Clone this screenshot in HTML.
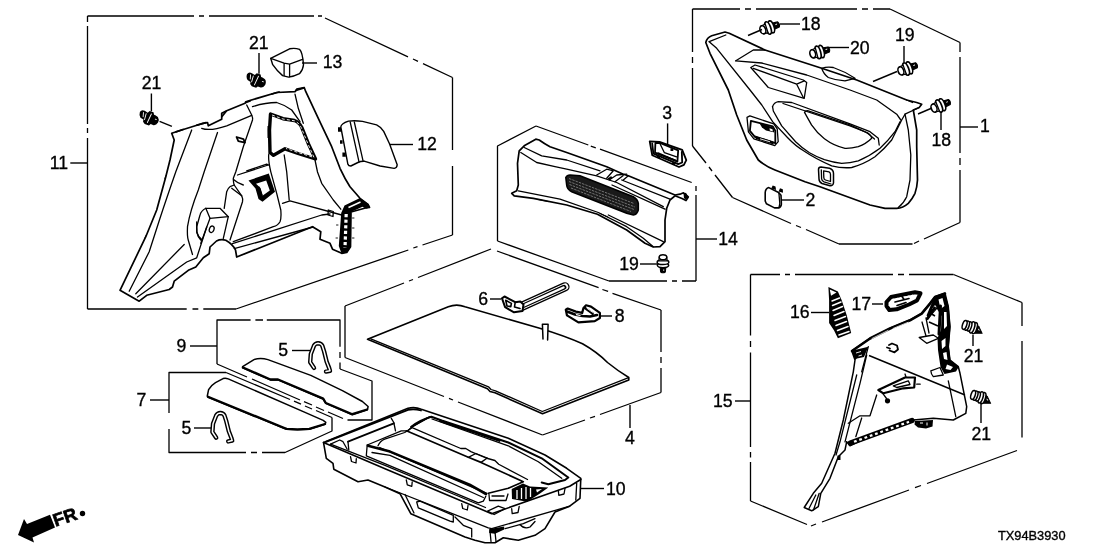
<!DOCTYPE html>
<html>
<head>
<meta charset="utf-8">
<title>Parts diagram</title>
<style>
html,body{margin:0;padding:0;background:#fff;}
body{width:1108px;height:554px;overflow:hidden;font-family:"Liberation Sans",sans-serif;}
svg{display:block;position:absolute;left:0;top:0;filter:grayscale(1);}
.b{fill:none;stroke:#000;stroke-width:1.3;stroke-linejoin:round;stroke-linecap:butt;}
.p{fill:none;stroke:#000;stroke-width:1.3;stroke-linejoin:round;stroke-linecap:round;}
.pw{fill:#fff;stroke:#000;stroke-width:1.7;stroke-linejoin:round;stroke-linecap:round;}
.t{fill:none;stroke:#000;stroke-width:0.9;stroke-linejoin:round;stroke-linecap:round;}
.h{fill:none;stroke:#000;stroke-width:1.8;stroke-linejoin:round;stroke-linecap:round;}
.k{fill:#000;stroke:none;}
.l{fill:none;stroke:#000;stroke-width:1.4;}
text{font-family:"Liberation Sans",sans-serif;font-size:19px;fill:#000;stroke:#000;stroke-width:0.35;}
</style>
</head>
<body>
<svg width="1108" height="554" viewBox="0 0 1108 554">
<rect x="0" y="0" width="1108" height="554" fill="#fff"/>
<defs>
<g id="clipA">
<path d="M-11 -1.500 Q-10.500 -4.500 -7 -4.500 L-3.500 -4 L-2.500 -6.500 L1.500 -7 L3 -5 L4.500 -5 L7.500 -4.500 Q10 -3 10 0.500 Q9.500 4 7 4.800 L4 5 L3 7 L-1.500 7.500 L-4 6 L-4.500 4 L-8 3.500 Q-10.500 2 -11 -1.500 Z" fill="#000"/>
<path d="M-7.500 -2.500 L-6 1.500 M-4.500 -2.500 L-3.500 3.500 M0.300 -4.500 L0.300 5 M6 -1.500 h1.200" fill="none" stroke="#fff" stroke-width="0.9" stroke-linecap="round"/>
</g>

<g id="clipB">
<path d="M3 -3.300 L9.500 -2.600 Q11.200 0 9.500 2.600 L3 3.300 Z" fill="#000" stroke="#000" stroke-width="1.200" stroke-linejoin="round"/>
<path d="M6.500 -0.800 h1.800" stroke="#fff" stroke-width="0.900" fill="none"/>
<ellipse cx="2" cy="0" rx="2.600" ry="6.300" fill="#fff" stroke="#000" stroke-width="1.700"/>
<ellipse cx="-1.500" cy="0" rx="2.600" ry="6.500" fill="#fff" stroke="#000" stroke-width="1.700"/>
<path d="M-7 -4.200 L-3 -4.500 L-3 4.500 L-7 4.200 Z" fill="#fff" stroke="#000" stroke-width="1.300"/>
<ellipse cx="-7" cy="0" rx="2.800" ry="4.200" fill="#fff" stroke="#000" stroke-width="1.600"/>
</g>
<g id="clipC">
<path d="M2.500 -4 L5.500 -3 L11 2.600 L3 5 Z" fill="#000" stroke="#000" stroke-width="1" stroke-linejoin="round"/>
<path d="M6 -0.600 l1.300 1.400" stroke="#fff" stroke-width="0.900" fill="none"/>
<ellipse cx="2.200" cy="0" rx="2.200" ry="5.800" fill="#fff" stroke="#000" stroke-width="1.500"/>
<ellipse cx="-0.300" cy="0" rx="2.200" ry="5.800" fill="#fff" stroke="#000" stroke-width="1.500"/>
<ellipse cx="-3.300" cy="0" rx="2.100" ry="4.800" fill="#fff" stroke="#000" stroke-width="1.500"/>
<ellipse cx="-5.800" cy="0" rx="2.100" ry="4.800" fill="#fff" stroke="#000" stroke-width="1.500"/>
<ellipse cx="-8.300" cy="0" rx="2.100" ry="4.600" fill="#fff" stroke="#000" stroke-width="1.500"/>
</g>
</defs>


<!-- ================= GROUP BOUNDARIES ================= -->
<g id="bounds" class="b">
<!-- group 11 -->
<path d="M87.5 16 H194 M199 16 H204 M209 16 H314 M318 16 H322"/>
<path d="M325 18 L408 56.800 M413 59 L418 61.400 M423 63.700 L452.5 77.5"/>
<path d="M452.5 77.5 V150 M452.5 166 V235"/>
<path d="M452.5 235 L422.500 245 M417.500 246.700 L413.300 248 M408.300 250 L236 309"/>
<path d="M236 309 H203.300 M198.300 309 H192.500 M186.700 309 H87.5"/>
<path d="M87.5 16 V22 M87.5 26 V124 M87.5 128 V133 M87.5 138 V309"/>
<!-- group 1 -->
<path d="M692.5 9 H740 M745 9 H751 M756 9 H857 M862 9 H868 M873 9 H890"/>
<path d="M890 9 L960 42.5"/>
<path d="M960 42.5 V52 M960 57 V153 M960 158 V165 M960 170 V222.5"/>
<path d="M960 222.5 L924 239 M919 241 L914 243.5"/>
<path d="M912.5 244 H839"/>
<path d="M839 244 L806 229.5 M801 227.5 L796 225.5 M791 223.5 L732.5 197.5"/>
<path d="M732.5 197.5 L715 175 M712 171 L709 167 M706 163 L692.5 146"/>
<path d="M692.5 146 V68 M692.5 63 V57 M692.5 52 V9"/>
<!-- group 14 -->
<path d="M497.5 241 V146 L536 126"/>
<path d="M536 126 L588.300 145 M590.800 146.200 L595.800 147.800 M600 149.200 L691.700 182.500"/>
<path d="M696 186 V191 M696 195 V281"/>
<path d="M696 281 H682 M677 281 H672 M667 281 H609"/>
<path d="M609 281 L497.5 241"/>
<!-- group 4 -->
<path d="M345 306 L404 283 M409 281 L413 279.5 M418 277.5 L491 249"/>
<path d="M497 251 L598.600 287.600 M602.400 289.500 L608.100 291.400 M612.500 293.300 L661 310"/>
<path d="M661 310 V352 M661 357 V363 M661 368 V392.5"/>
<path d="M661 392.5 L600 414.5 M595 416.3 L590 418 M585 420 L542.5 435"/>
<path d="M542.5 435 L458 402 M453 400 L449 398.3 M444 396.5 L345 357.5"/>
<path d="M345 357.5 V306"/>
<!-- group 15 -->
<path d="M750.5 274.5 H780 M785 274.5 H790 M795 274.5 H893 M898 274.5 H904 M909 274.5 H953.5"/>
<path d="M953.5 274.5 L1022 302.5"/>
<path d="M1022 302.5 V326 M1022 341 V437.5"/>
<path d="M1017 450.5 L927 483.5 M921 485.5 L915 487.7 M909 490 L822 522"/>
<path d="M816 524 L811 526 M807 524.5 L750.5 501"/>
<path d="M750.5 501 V462 M750.5 457.500 V452 M750.5 447 V352.500 M750.5 347 V341 M750.5 335.500 V274.5"/>
<!-- box 9 -->
<path d="M217 364 V320 H250.600 M255.400 320 H263 M266.800 320 H340 V346.800 M340 352 V358 M340 362.500 V369"/>
<path d="M340 369 L372 381 V420 H347.5"/>
<path d="M217 364 L247 377 M252 379 L300 400 M304 401.7 L312 405 M316 407 L324 410.5 M328 412 L343 418.5"/>
<!-- box 7 -->
<path d="M169 413 V372.5 H226"/>
<path d="M226 372.5 L290 399.5 M294 401.2 L301 404.2 M305 406 L312 409 M316 410.5 L332 417.5"/>
<path d="M332 417.5 V431 L285 452.5 H262 M257 452.5 H251 M246 452.5 H169 V429"/>
</g>



<!-- ================= PARTS ================= -->
<g id="parts">

<!-- ===== part 11 : left quarter panel ===== -->
<g id="p11">
<path class="pw" d="M171.7 133.3 L181.7 130 L201.7 123.7 L207.5 122.5 L208.3 125.8 L221.7 119.2 L221.7 113.3 L226.7 110.8 L245 103.3 L245.8 101.7 L276.7 92.5 L295 91.7 L296.7 89.2 L304.2 87.5 L305.8 91.7 L318.3 118.3 L331.7 146.7 L340 168.3 Q345 179 350 186.7 L360 198.3 L368 204.5 L369.5 207.5 L365.5 208 L351 212 L350.5 246.7 L346.7 252.5 L341.7 253.3 L332.5 249.2 L330 243.3 L320 239.2 L320.8 231.7 L316.7 229.2 L312.5 226.7 L236.7 257 L235.5 250 Q233 244.5 225.8 240.3 Q221 238.8 216.5 241 L210 247 L209.2 253.7 L203.3 257.8 L195.8 267 L188.3 270.3 L174.2 281.2 L172.5 287 L169.2 289.5 L146.7 295.3 L139.2 301.2 L120 290.3 L145.8 236.7 L156.7 210 L165.8 176.7 L170 160 L174.2 140 Z"/>
<!-- clip marks on top edge -->
<path class="h" d="M176 131.8 L183 129.5 M197 125.2 L206 122.6 M222 116.5 L226 111.5 M246 102.5 L250 100.8 M272 94 L279 92 M296 90.5 L304 87.8"/>
<path class="t" d="M166 175.5 l-1.2 3.2 M146.2 235 l-1.400 3.200"/>
<!-- inner long lines -->
<path class="p" d="M191.7 130 L175.8 171.8 Q166 200 160 218.3 L149.2 251.8 L129.2 291.2"/>
<path class="p" d="M217.5 132.5 L204.2 171.8 L198.3 190 Q190 211 187.5 226.7 Q187 236 188.300 240.300 L192.500 254.500"/>
<path class="p" d="M184.2 244.500 L135.800 293.700"/>
<path class="p" d="M137.5 297 L186.7 262 L196.7 257.800 L206.700 227"/>
<path class="p" d="M196.7 222 L196.700 232 Q198 236.500 201.700 239.500"/>
<!-- pillar lines -->
<path class="p" d="M201.7 128.300 Q210 131.500 226.700 125.800 L251.700 115.300"/>
<path class="p" d="M246.7 105 L251.700 115 Q253 118 252.500 120 L243.300 146.700 L235.800 171.800 L233.300 178.300 Q233.500 183.500 234.200 185"/>
<path class="p" d="M252.5 106.700 Q265 102.500 276.700 102.500 Q285 105 291.700 110 L300 121.700"/>
<path class="p" d="M295 94.200 L298.300 108.300 L303.300 123.300"/>
<path class="p" d="M315 160 L317.500 172 L321.700 183.300 L333.300 200 L340.800 209.200"/>
<!-- small clip -->
<path class="h" d="M236.5 137 L243.500 139.200 L245 142.700 L238.300 141.200 Z"/>
<!-- window frame -->
<path d="M270.500 114 L283 118.700 L294.500 120.500 Q299.500 122.500 301.800 127.500 L308.500 144 L315.500 159 L298 153.500 L285 148.800 L273.500 155.300 L270 152.500 L269.500 130 Z" fill="none" stroke="#000" stroke-width="3.400" stroke-linejoin="round"/>
<path d="M272 115 L283 119 L294.500 120.800 Q299 122.800 301.300 127.800 L308 144 L314 157.500 L298 152.500 L286 148.500" fill="none" stroke="#fff" stroke-width="0.900" stroke-dasharray="3 2.200"/>
<path class="k" d="M267.500 126 h3 v12 h-3 Z"/>
<!-- below window -->
<path class="p" d="M268.8 154 Q268 160 270.800 171.800 L276.700 193.300 L280.800 210 Q281.500 218 280 221.700 Q278 225.500 273.300 226.700 L233.300 241.700"/>
<path class="p" d="M284.200 155 L286.700 171.800 L289.200 200"/>
<path class="p" d="M282.500 203.300 L290 200.800 L341.700 215"/>
<path class="p" d="M328.300 210 L333.300 211.500 L333 216.500 L328 215 Z"/>
<!-- shelf lines -->
<path class="p" d="M246.700 170.800 L266.700 164.200 L268.300 165 "/>
<path class="p" d="M237.500 175 L268.300 165"/>
<path class="p" d="M233.500 179.500 Q238 183.500 243.300 185"/>
<path class="p" d="M232.500 243.700 L321.700 215 L330 214"/>
<path class="p" d="M234.200 248.700 L313 227"/>
<!-- bumps -->
<path class="p" d="M205.800 208.300 L220 208.300 L228.300 216.700 L210 218.300 Z"/>
<path class="p" d="M205.800 208.300 Q201 211 200 215 L196.700 226.700 Q196.500 233 198.300 236.700 L200.800 240"/>
<path class="p" d="M210 218.300 L200.800 243.300"/>
<path class="p" d="M228.300 216.700 L223.300 238.300"/>
<ellipse class="p" cx="211.700" cy="229.300" rx="2.300" ry="3.300" transform="rotate(20 211.700 229.300)"/>
<path class="p" d="M224.200 208.300 L226.700 191.700 Q228 188 230 186.700 L234.200 185 L241.700 195.800 Q243 198.500 242.500 201.700 L230 240"/>
<path class="p" d="M231.700 188.300 L241.700 195.800"/>
<!-- pocket -->
<path class="k" d="M248.500 180.500 L268.800 173.500 L275 191.800 L262.500 201.800 L258.500 199 L255.500 188.500 Z"/>
<path d="M256 183.800 L266.200 180.500 L269.800 190.500 L262.800 195.500 L260.500 188 Z" fill="#fff"/>
<path d="M259 186.500 L262 195" stroke="#000" stroke-width="0.900" fill="none"/>
<!-- bracket -->
<path class="k" d="M344.500 205.500 L360 198 L368.500 204 L370 207.500 L366 208.800 L362.500 206.800 L351 212 L351 246.700 L347 252.800 L341.500 253.500 L338.800 246 L341.200 213 Z"/>
<path d="M346.200 214 L345 248" stroke="#fff" stroke-width="3.200" stroke-dasharray="3.200 2.400" fill="none"/>
<path d="M348.500 207.500 L360.500 202" stroke="#fff" stroke-width="1.600" fill="none"/>
<path class="t" d="M352.500 218 h1.500 M352.500 228 h1.500 M352.500 238 h1.500 M338 225 h-1.500 M337.500 238 h-1.500"/>
</g>

<!-- ===== part 12 ===== -->
<g id="p12">
<path class="pw" style="stroke-width:1.4" d="M340.800 127 Q341 123.500 348.500 121.100 Q355 120.300 362.500 121.400 L376.600 124.900 Q381 127 383.700 131.400 L389.500 143.700 L397.200 164.800 Q397 168 394.200 168.400 L380.100 166 L364.900 161.300 Q361 161 357.900 162.500 L350.800 166 Q348.500 166 347.900 164.300 Z"/>
<path class="p" d="M350.200 122 L359 161.900 M354.300 122 L363.100 161.100"/>
<path class="k" d="M338 127.300 h3 v4.500 h-3 Z M340 140.200 h2.600 v3.600 h-2.600 Z M342.400 152.500 h3.400 v4.200 h-3.400 Z"/>
</g>

<!-- ===== part 13 ===== -->
<g id="p13">
<path class="pw" style="stroke-width:1.4" d="M270.700 58.300 L289.600 48.800 Q295 47.800 299.500 49.300 Q302.500 52 303.500 64.700 Q303 70 299.500 73.700 Q294 76.500 288.600 77.100 L282.600 75.600 Q277 71 272.700 64.700 Z"/>
<path class="p" d="M270.700 58.300 L284.100 63.200 L289.600 64.200 L302.500 59.300 M284.100 63.200 L284.100 75.500 M289.600 64.200 L289.600 76.800"/>
</g>


<!-- ===== part 1 : door lining ===== -->
<g id="p1">
<path class="pw" d="M705.8 42.5 Q707 37.5 711.7 35.8 L725 32 L729.2 33.3 L765 50 L821.7 68.3 L856.7 80 L906.7 100 L916.7 102.5 L921.7 104.2 L919.2 107.5 L913.3 110 L916.7 130 L916.7 146.7 L917.5 180 Q917 188 915 193.3 Q912 199.500 908.3 203.3 Q903 208 896.7 208.3 L885 208.3 L870 205 L820 186.7 L805 181.8 L775 170 Q765 166 758.3 160 L746.7 140 L736.7 115 L728.3 90 L710 53.3 Z"/>
<path class="p" d="M709.2 41.7 L725.8 35"/>
<path class="p" d="M709.2 41.7 L716.7 48.3 L750 90 L761.8 105 L772.8 121.9 L787.7 137.8 Q796 146.500 803.6 150.7 Q815 158.500 831.7 165.8 Q842 168.500 851.7 167.5 Q864 164 875 156.7 Q884 149.500 891.7 140 L901.7 120 L905 114.2"/>
<path class="p" d="M735.8 60.8 L753.3 50 L765 50"/>
<path class="p" d="M735.8 60.8 L761.7 63 L806.7 75 L850 90 L876.7 100 L896.7 114.2 L900.8 120"/>
<path class="p" d="M919.2 107.5 L905 114.2 L908.3 130 L910.8 155 L910 180 L906.7 196.7 Q903.500 203.500 898.3 207.5"/>
<path class="p" d="M906.7 100 L912.500 102.500"/>
<!-- upper recess -->
<path class="p" d="M750.8 67.5 L755 65 L803.3 80 L806.7 82.5 L804.2 98.3 L768.3 87.5 Z"/>
<path class="p" d="M753.3 68.3 L796.7 84.2 L804.2 80.8 M796.7 84.2 L803.3 97.5"/>
<!-- oval bump -->
<path class="p" d="M821.7 68.3 Q827 66.5 833.3 67.5 Q845 71.500 855 78.3 L845 80.8 Q836 80.5 828.3 77.5 Q823.5 74 821.7 68.300"/>
<!-- armrest -->
<path class="p" d="M772.5 106.7 Q774 102.5 778.3 101.7 L791.7 102.500 L850 123.900 L870 131.700 L878.300 138.300 L879.200 145"/>
<path class="p" d="M783 103.500 L850 125.900 L866.700 132.500 L874.500 139"/>
<path class="p" d="M772.5 106.7 Q773 109 773.3 111 L781.7 125.9 L795.6 141.7 Q802 148 809.5 152.7 Q816 156.500 824.4 159.7 Q833 162.500 841.7 163.3 Q850 163 858.3 160.8 Q870 156 880 148.3 Q888 141 895 131.7 L900 121.7"/>
<path class="p" d="M804.5 112.4 Q805.5 110.5 808.3 110.8 L850 124.900 L868.3 133.3 Q871.5 135.5 871.7 138.3 Q866 144 858.3 146.7 Q851 148.5 845 148.3 Q834 146 824.4 138.800 Q817 133 811.5 124.900 Z"/>
<!-- switch panel -->
<path class="p" d="M747 117.400 L749.900 115.900 L773.800 123.900 L777.200 128.800 L778.200 141.700 L774.800 145.700 L753.900 138.800 L748.400 131.800 Z"/>
<path class="h" d="M750.900 120.900 L772.800 126.400 L775.300 130.800 L775.300 143.200 L754.900 136.800 L749.900 130.800 Z"/>
<path class="k" d="M759 122.500 L773.500 127.500 L774.500 132.500 L766 130.500 L762 127.500 Z"/>
<path d="M769.500 128.200 l3 1 l0.300 2.200 l-3 -0.800 Z" fill="#fff"/>
<path class="k" d="M755 135.500 L773.500 141.500 L773.500 144.500 L756 139 Z"/>
<path d="M760 138.800 L770 141.800" stroke="#fff" stroke-width="0.900" fill="none"/>
<!-- small square -->
<path class="p" style="stroke-width:1.5" d="M818.500 169.500 Q818.500 167 821 167 L829.500 168.200 Q833.500 169.500 833.500 173.500 L833.500 183 Q833 186 830 185.800 L822 183.500 Q819 182 819 179 Z"/>
<path class="p" d="M821.300 169.800 L821.600 178.800 Q822 181 824 181.800 L831 184 M823.600 170.800 L829 171.800 Q830.500 172.500 830.500 174.500 L830.500 181.500 L825.500 180 Q823.800 179.300 823.800 177.500 Z"/>
</g>


<!-- ===== part 14 : rear panel lining ===== -->
<g id="p14">
<path class="pw" d="M519.2 150.8 L524.2 145.8 L535.8 139.2 L539.2 140 Q544 143.5 550 146.7 L566.7 152.5 L606.7 166.7 L623.3 174.2 L628.3 175.8 L675 195 L680 194.2 L683.5 192.800 L688.3 197 L686 200.5 L682 198.5 L675 195.8 L670 200 L666.7 208.3 L665 220 L665 241.7 L660 246.7 L653.3 247 L645 243.300 L626.7 230 L597.500 214.200 L566.7 205 L533.3 198.3 L514.2 195.8 L511.7 193.3 L516.7 190.8 L518.3 185 L517.5 163.3 Z"/>
<path class="p" d="M524.2 147.5 L541.7 155.8 L566.7 160 L600 170.8"/>
<path class="p" d="M520.8 152.5 L536.7 162.5 L555 166.7 L566.7 169.2 L596.7 175.8 L616.7 182.5 L663.3 206.7"/>
<path class="p" d="M621.7 180 L670 199.2 M612 185 L665 209.200 M628.300 175.800 L623.300 180"/>
<path class="p" d="M518.3 190.8 L560 199.2 L598.3 212.5 L626.7 226.7 L643.3 238.3 L653.3 246.7"/>
<path class="p" d="M608.3 215 L663.3 241.7"/>
<path class="t" d="M538 199.500 l10 2 M600 213.500 l8 3.500"/>
<!-- grille -->
<path d="M565.8 177.5 Q567 175 570 175 L580 175.8 L633.3 196.7 Q637.5 199 638.3 203.3 L638.3 210 Q637 214.5 633.3 215 L626.7 213.3 L571.7 191.7 Q567 189.5 566.7 185 Z" fill="#1a1a1a" stroke="#000" stroke-width="1.600"/>
<path d="M569 178.500 L634 203.500 M569 181.500 L635 207 M569.500 184.500 L634 209.500 M571 188 L631 211.500" fill="none" stroke="#9a9a9a" stroke-width="0.700" stroke-dasharray="2.500 1"/>
<!-- latch -->
<path class="p" d="M596.7 175 L606.7 169.2 L613.3 170.8 L606.7 178.3 M609.2 180 L616.7 175 L626.7 174.2 M615 181.7 L623.3 175.5"/>
<path class="k" d="M607.500 178.500 l3.500 -2.200 l1.500 1 l-2.800 2.700 Z"/>
<path class="k" d="M683.500 193.500 l2.500 -0.800 l2 3.800 l-1.800 3 l-2.200 -1.200 Z"/>
</g>

<!-- ===== part 3 ===== -->
<g id="p3">
<path class="pw" style="stroke-width:1.8" d="M649.7 141.4 L659.5 141.8 L682.2 149.9 L686.3 160.1 L683.9 164.9 L679 167 L652.2 155.2 Z"/>
<path class="h" d="M652.2 143.500 L653.4 153.6 L678.2 164.1 L682.2 162.5 L681.8 151.9"/>
<path class="h" d="M655.4 143 L659.9 143 L678.2 150.3 L677.4 161.7 L655 152.7 Z"/>
<path class="p" d="M659.9 143.500 L664.4 152.7 L676.6 156.8"/>
<path class="k" d="M670.5 148.3 h2.800 v2.800 h-2.800 Z M657 155.500 l3 1.200 v1.800 l-3 -1.200 Z M672 162 l3 1.200 v1.800 l-3 -1.200 Z"/>
<path class="t" d="M658 153 l18 7.500" style="stroke-width:1.600;stroke-dasharray:1.500 1"/>
</g>

<!-- ===== part 2 ===== -->
<g id="p2">
<path class="pw" style="stroke-width:1.6" d="M765.2 192.500 Q765.500 188.500 768.8 187.6 L778.6 192.5 L781 195.3 L781.4 204.2 Q781 207.500 778.6 207.9 L774.5 207.9 L766.4 203.8 L765.2 201 Z"/>
<path class="p" d="M778.900 193 L779.8 203.4 L779 207.500"/>
<path class="k" d="M771.2 188.500 l1.500 -3 l2.800 1 l0.600 3.500 Z M778.6 191.500 l1.400 -3.300 l2.800 1 l0.200 3.500 Z"/>
</g>

<!-- ===== clips ===== -->
<use href="#clipA" transform="translate(149.200 117.900) rotate(25)"/>
<use href="#clipA" transform="translate(256.300 80.200) rotate(25)"/>
<use href="#clipB" transform="translate(769.500 27.500) rotate(-19)"/>
<use href="#clipB" transform="translate(819.500 52) rotate(-15)"/>
<use href="#clipB" transform="translate(907.500 68.500) rotate(-20)"/>
<use href="#clipB" transform="translate(940.500 105.500) rotate(-22)"/>
<use href="#clipB" transform="translate(663 263.500) rotate(90) scale(0.900)"/>
<use href="#clipC" transform="translate(972.500 327.500) rotate(18)"/>
<use href="#clipC" transform="translate(981 397.500) rotate(18)"/>


<!-- ===== part 4 : floor mat ===== -->
<g id="p4">
<path class="pw" style="stroke-width:1.6" d="M367.5 339.2 L448.3 306.7 Q456.7 303.5 465 306.7 L539.7 328.3 Q565 336 582.5 343.8 Q597 352 607.5 362.5 Q618 371 628.8 377.5 L628.8 380 L542.5 413.8 L495 392.8 L490 391.5 L487.5 388.8 Z"/>
<path class="p" d="M370.8 338.8 L488.500 386.800 L491 389.500 L495.500 390.800 L542.300 411.500 L628 377.800"/>
<path class="pw" style="stroke-width:1.5" d="M543 339 L542.400 324.300 L548.100 324.300 L547.600 340"/>
</g>

<!-- ===== part 6 : strap ===== -->
<g id="p6">
<path d="M521.500 306.500 L565 286.800" stroke="#000" stroke-width="9.200" stroke-linecap="round" fill="none"/>
<path d="M521.500 306.500 L565 286.800" stroke="#fff" stroke-width="6.600" stroke-linecap="round" fill="none"/>
<path d="M523.500 305.600 L564 287.300" stroke="#000" stroke-width="4.800" stroke-linecap="round" fill="none"/>
<path d="M524 305.400 L563.500 287.500" stroke="#fff" stroke-width="2.400" stroke-linecap="round" fill="none"/>
<path class="pw" style="stroke-width:2" d="M502 298.400 L504.500 296.500 L515.200 302.200 L520.300 301.500 L523.500 304.500 L522.500 311 L514 312.300 L505.100 307.200 Z"/>
<path class="p" style="stroke-width:1.6" d="M505.700 300.300 L511.400 303.400 L510.800 306.600 L507 306 Z M515.200 302.200 L514.500 307 L520 308.500"/>
</g>

<!-- ===== part 8 ===== -->
<g id="p8">
<path d="M565.800 309.700 L567.700 308.500 L575.900 311.600 L582.200 312.900 L583.500 307.900 L586 305.300 L591 306.600 L599.900 312.900 L599.900 318 L594.800 321.100 L578.400 322.400 L567 315.400 Z" fill="#fff" stroke="#000" stroke-width="2.200" stroke-linejoin="round"/>
<path d="M567 311.500 L575 314.500 L582.500 316 L590 316.500 L597 315 M585 308 L592.500 313.500" fill="none" stroke="#000" stroke-width="2.600" stroke-linecap="round" stroke-linejoin="round"/>
<path d="M587 308.300 L592.500 312.300" fill="none" stroke="#fff" stroke-width="0.900" stroke-linecap="round"/>
<path d="M576.500 314.600 l3.500 0.900" fill="none" stroke="#fff" stroke-width="1.200" stroke-linecap="round"/>
</g>

<!-- ===== clips 5 ===== -->
<g id="clip5a">
<path d="M314 367.900 L310.200 362.200 L310.800 354 L314 345.700 Q315.500 343.200 318 343.200 Q321 343.400 322.200 345.500 L324.100 351.400 L326.600 361.500 L329.100 367.900 L330 370.800 L326 371.600" fill="none" stroke="#000" stroke-width="4.400" stroke-linecap="round" stroke-linejoin="round"/>
<path d="M314 367.900 L310.200 362.200 L310.800 354 L314 345.700 Q315.500 343.200 318 343.200 Q321 343.400 322.200 345.500 L324.100 351.400 L326.600 361.500 L329.100 367.900 L330 370.800 L326 371.600" fill="none" stroke="#fff" stroke-width="1.500" stroke-linecap="round" stroke-linejoin="round"/>
</g>
<use href="#clip5a" transform="translate(-97.800 69.800)"/>

<!-- ===== part 9 board ===== -->
<g id="p9">
<path class="pw" style="stroke-width:1.5" d="M242.600 366.600 L254 359.600 Q260.300 357.500 267.900 359.600 L310.800 375.400 L342.400 390.600 L362.400 401.500 L368.100 406.500 L367.500 409.700 L352.300 414.700 L325.800 403.400 L323.200 399 L278 379.900 L270.400 379.900 L242.600 367.900 Z"/>
<path class="h" style="stroke-width:2.300" d="M243 367.500 L270.400 379.500 L278 379.500 L323.200 398.600 L325.800 403 L352.300 414.200 L367 409.500"/>
</g>
<!-- ===== part 7 board ===== -->
<g id="p7">
<path class="pw" style="stroke-width:1.5" d="M207.300 396 L208.600 389.600 Q211 385.500 215.500 382.700 L223.100 378.600 Q225.500 378 228.200 378.900 L305 412.400 L323.200 420.400 L325.800 422.300 L325.100 424.200 L309.300 429.300 Q297 430.200 286.600 429.300 L283.800 428.200 L208 397.200 Z"/>
<path class="h" style="stroke-width:2.300" d="M208 396.800 L283.800 427.800 L286.600 428.900 Q297 429.800 309.300 428.900 L325 424"/>
</g>


<!-- ===== part 10 : tray ===== -->
<g id="p10">
<path class="pw" style="stroke-width:1.6" d="M323.500 442.400 L408 408.300 Q414.700 406.500 421.300 409.200 L508.300 438.300 L545 455 L566.700 468.300 L580.800 478.300 L580 498.300 L569.700 506.200 L555 512 L545 528.700 L535 535.300 L518.300 540.300 L503.300 537.800 L495 542.800 L485 542.800 L475 540.300 L465 537 L410.800 513.700 L400 493.700 L385 487 L368 480 L358 481.700 L333.800 469.200 L333 463.300 L326.300 458.300 Z"/>
<!-- rim -->
<path class="p" style="stroke-width:1.6" d="M323.500 442.400 L385 468.700 L491.700 513.700 L569.700 486.200 L580.800 479.500"/>
<path class="p" d="M330.500 444.200 L385 465.300 L485.500 507.500"/>
<path class="p" d="M385 487 L488.300 527.800 L491.700 528.700 L569.700 506.200"/>
<path class="p" d="M576.700 483.300 L575.800 500"/>
<!-- top-left rim inner -->
<path class="h" d="M348 441.700 L393.800 423.300"/>
<path class="p" d="M391.300 418.300 L393.800 422.500 L395.500 430.800"/>
<path class="p" d="M348 441.700 L348.800 450"/>
<path class="p" d="M330.500 444.200 L339.700 440 L343 441.700 L347.200 449.200"/>
<path class="h" d="M326 441.800 L408 409.800 Q414.500 408.500 421 410.500"/>
<!-- inner box -->
<path class="p" d="M367.200 445 L366.300 455.800 L478.300 502.800 L483.300 501.200 L485.800 496.200"/>
<path class="p" d="M367.200 445 L401.300 430.800 L408 430.800 L411.300 427.500 L428 417.500"/>
<path class="h" d="M411.300 427 L429.500 417"/>
<!-- top right inner rim -->
<path class="h" style="stroke-width:2" d="M411.300 426.700 Q420 420 431.300 416.700 L441.700 420.500 L508.300 442.500 L541.700 458.300 L568.300 477.500 L565 480 L548.300 484.200 L541.700 482.500"/>
<path class="p" d="M432 419 L508.300 445.800 L538.300 461.700 L561.700 478.300"/>
<path class="t" d="M440 421 L500 441" style="stroke-width:2.200;stroke-dasharray:1 1.200"/>
<!-- lid -->
<path class="p" d="M378 445.800 Q380 441 384.700 439.200 L404.700 432.500 L412.100 427.600 L460.800 448.500 L465.800 448.500 L470.900 451.600 L486 458 L494.900 460.500 L498.700 464.300 L527.500 479.500"/>
<path class="p" style="stroke-width:1.7" d="M406.400 430.800 L468.300 457.300 L481 462.400 L523.300 481.700 L508.300 488.300 L488.300 493.300"/>
<path class="p" d="M468.300 457.300 L475.900 453.500 L487.300 458 L481 462.400"/>
<path class="h" style="stroke-width:2.600" d="M368 445.800 L390 451.600 L469.600 484.600 L486 494"/>
<path class="p" d="M379.700 447.500 L486.700 493.300"/>
<path class="p" d="M372 452.500 L390 455.400 L483.300 497.500"/>
<!-- mechanism -->
<path class="k" d="M511.700 489 L523 483.500 L530 486.500 L548.300 487.500 L540 493.500 L527 501.700 L512 499 Z"/>
<path d="M517 490 v9 M521.500 488 v11 M526 487 v12 M530.500 488 v9" stroke="#fff" stroke-width="1.300" fill="none"/>
<path d="M536 489.500 l6 -0.500 l-5 3.500 Z" fill="#fff"/>
<path class="p" d="M489 494.500 L489.500 500.500 L506 500.500 L508 494 M492 496 h12"/>
<!-- rim clips -->
<path class="p" d="M350.500 456.700 L351.500 461.500 L356 463 L356.300 458.700 M406.300 480 L407.300 484.800 L411.800 486.300 L412.200 482 M461.700 503.700 L462.700 508.500 L467.300 510 L468 505.500 M511.700 508.700 L512.200 513.700 L518 512.500 L519.200 506.500 M558.300 490.300 L558.800 495.300 L564 494 L565 488.500"/>
<path class="p" d="M487.500 511.200 L498.300 506.200 L505 508.700 L494.200 514.500 Z"/>
<!-- under body -->
<path class="p" d="M405 494.500 L414 513"/>
<path class="p" d="M416.700 502 L420 501.200 L453.300 515.300 L453.300 522 L450 521.200 L418.300 507.800 Z"/>
<path class="p" d="M455 517 L463.300 525.300 L471.700 528.700 L471.700 537"/>
<path class="k" d="M489.200 529 L504.200 526.500 L504.200 529.500 L495 533.700 L489.200 533 Z"/>
<path class="p" d="M490 531 L491 541.500 M495 532 L496 541.500"/>
<path class="p" d="M505 528.700 L523.300 523.700 L535 518.700 M520 524.500 Q524 529.500 530 527 L535 521.500"/>
</g>


<!-- ===== part 15 : right quarter panel ===== -->
<g id="p15">
<path class="pw" style="stroke-width:1.5" d="M851.700 350.800 L870 338.300 L890 328.300 L910 320 L921.700 313.300 L930 303.300 L935 296.700 L945 293.300 L948.300 306.700 L950 326.700 L948.300 346.700 L950 360 L958.300 366.700 L960 373.300 L966.700 406.700 L965.800 413.300 L953.300 420 L933.300 418.300 L913.300 420 L858.300 441.800 L850 445.800 L846.700 441.700 L845 450 L838.300 456.700 L830 478.300 L820.800 493.300 L818.300 506.700 L811.700 510.800 L804.200 507.500 L813.300 493.300 L821.700 483.300 L835 453.300 L843.300 420 L853.300 371.800 L855 360 Z"/>
<!-- top edge thick -->
<path class="h" style="stroke-width:2.600" d="M852 351 L870 338.500 L890 328.500 L910 320.300 L921.700 313.600 L930 303.600 L935 297 L945 293.600"/>
<path class="t" d="M872 338.500 L888 330.500 M893 328.500 L908 322.300" style="stroke:#fff;stroke-width:0.800"/>
<!-- right bracket dark -->
<path class="k" d="M935 296.700 L945 293.300 L948.800 306.700 L950.500 326.700 L948.800 346.700 L950.500 360 L958.800 366.700 L956 371.500 L944.500 374 L940.500 367 L938 350 L937.500 338 L941 330 L941.500 316 L937 309 L929 318 L926.500 315.500 L931.500 303.500 Z"/>
<path d="M938.500 299.500 l4 -1.500 l2 8 l-4 3 Z M944 312 l2.500 0 l0.500 14 l-3 3 Z M932 309 l3 -4 l1.500 2 l-3 4.500 Z M941.500 341 l4 -3 l0 8 l-3.500 3 Z M943 353 l3.500 -1 l1 8 l-3.500 -1 Z M947 364.500 l6 2.500 l-2.500 3 l-5 -1 Z" fill="#fff"/>
<path class="p" d="M926 318 L929 333 M922 322 L926 336"/>
<path d="M934.500 308 L927.500 318.500 M940.500 306 L939 334" stroke="#000" stroke-width="3" fill="none" stroke-linecap="round"/>
<path d="M930 313 L935 316 M929 322 L938 326" stroke="#000" stroke-width="1.600" fill="none"/>
<path class="p" d="M919.200 337.500 L933.300 335 L938.300 338.300 L926.700 343.300 Z"/>
<path class="p" d="M930.800 370.800 L940 367.500 L943.300 375 L933.300 376.700 Q931 374 930.800 370.800"/>
<!-- gear -->
<path class="h" d="M889 345 L892 343.500 L897 345.500 L898 349.500 L894.500 352.300 L889.500 350.500 M887 347.500 l3 1"/>
<!-- left column -->
<path class="k" d="M851.700 350.800 L868.300 346.700 L864 357 L857 358.500 L855 360 Z"/>
<path d="M856 353 l5 -1.500 M858.500 356 l3.500 -1" stroke="#fff" stroke-width="0.900" fill="none"/>
<path class="p" d="M866.700 355 L860 383.300 L845 441.800"/>
<path class="p" d="M856.700 375 L840 441.800 L836 455"/>
<path class="p" d="M868.300 346.700 L861.700 371.800"/>
<!-- notch -->
<path class="p" d="M876.700 395 L870 415.800 L860 415.800 L848.300 423.300"/>
<path class="p" d="M861.700 418 L855.800 436.700"/>
<!-- handle -->
<path class="h" style="stroke-width:2.200" d="M878.300 390 L905 377.500 L915 377.500 L914.200 387.500 L903.300 388.300 L883.300 393.300 Z"/>
<path class="p" d="M893.300 385.800 L908.300 380.800 L910 384.500 L896.700 387.500 Z"/>
<path class="p" d="M883.300 394.200 L886.500 398.500 M916.700 384.200 h3.500 M906 377 l-1 -3"/>
<circle class="k" cx="887.500" cy="400.800" r="2.600"/>
<!-- inner vertical -->
<path class="p" d="M948.300 380.800 L955.800 416.700"/>
<!-- hatched rail -->
<path d="M850.500 443 L912 420.500" stroke="#000" stroke-width="5.400" fill="none" stroke-linecap="round"/>
<path d="M854 441.800 L909 421.800" stroke="#fff" stroke-width="2.200" fill="none" stroke-dasharray="2.800 2.800"/>
<!-- bottom clip -->
<path class="k" d="M915 421 L933 420 L932.500 426.500 L926 428.500 L918 427.500 L914.500 424.500 Z"/>
<path d="M920 423 h3 M927 422.500 v3" stroke="#fff" stroke-width="1" fill="none"/>
<!-- leg -->
<path class="p" d="M815.800 495 L809 508.500 M819.200 493.300 L813.500 510"/>
<path class="k" d="M837.500 455.500 h3 v4.500 h-3 Z"/>
</g>

<!-- ===== part 16 ===== -->
<g id="p16">
<path class="k" d="M828.400 287 L837.900 291.400 L841.700 300.300 L846.800 315.500 L851.200 333.100 L837.900 338.200 L834.100 330.600 L829.100 323 L829.100 300.300 Z" stroke="#000" stroke-width="1.200" stroke-linejoin="round"/>
<path d="M829.800 289.500 L836.500 292.500 L831 295.800 Z" fill="#fff"/>
<path d="M832 301 L839.500 298 M832.500 305.500 L841 302 M833 310.500 L842.500 306.500 M834 315.500 L844 311.500 M835 320.500 L845.500 316.500 M836 325.500 L846.500 321.500 M837.500 330.500 L848 326.500 M839 335 L849 331.500" stroke="#fff" stroke-width="1.500" fill="none" stroke-linecap="round"/>
</g>

<!-- ===== part 17 ===== -->
<g id="p17">
<path d="M886.500 302 L891 297 L915 292.300 L920.500 293.300 L917 300.500 L909 304.500 L896.700 309.300 L889.300 310 L886.500 306 Z" fill="#fff" stroke="#000" stroke-width="4" stroke-linejoin="round"/>
<path d="M892 299.500 L913 295 M890 304 L894 307" fill="none" stroke="#fff" stroke-width="0.800" stroke-dasharray="2 2"/>
<path class="p" style="stroke-width:1.6" d="M895 302 l14 -3.500 M897 305.500 l9 -3 M902 296.500 l2 3"/>
</g>
<!--PARTS-->
</g>

<!-- ================= LEADERS ================= -->
<g id="leaders" class="l">
<path d="M259 53 V73.700"/>
<path d="M151.400 93.500 V111.300"/>
<path d="M159.600 121.400 L171.900 126.400"/>
<path d="M302 63 H317"/>
<path d="M390 144.500 H413"/>
<path d="M70.300 163 H87.500"/>
<path d="M667.600 123.400 V144.600"/>
<path d="M780 24 H800"/>
<path d="M748 35.500 L762 29.500"/>
<path d="M827.500 47.500 H849"/>
<path d="M904 46 V62"/>
<path d="M873 81.500 L897 71.500"/>
<path d="M918 114 L932 108"/>
<path d="M941 112 V130"/>
<path d="M960 127 H978"/>
<path d="M781 200 H804"/>
<path d="M696 239 H717"/>
<path d="M640 264 H657"/>
<path d="M490 299 H501"/>
<path d="M599 316 H612"/>
<path d="M190 346 H217"/>
<path d="M292 350.500 H311"/>
<path d="M150 400 H169"/>
<path d="M194 428 H211"/>
<path d="M630 405 V428"/>
<path d="M581 488.500 H604"/>
<path d="M735 401 H750.500"/>
<path d="M811 312.500 H829"/>
<path d="M872 304 H883"/>
<path d="M973 335 V346"/>
<path d="M981 402.500 V423"/>
<path d="M869 355.500 L965 395"/>
</g>

<!-- ================= LABELS ================= -->
<g id="labels">
<text transform="translate(248.9 48.8) scale(.93 1)">21</text>
<text transform="translate(141.8 88.9) scale(.93 1)">21</text>
<text transform="translate(322.8 68.4) scale(.93 1)">13</text>
<text transform="translate(417.3 150.2) scale(.93 1)">12</text>
<text transform="translate(49.7 168.5) scale(.93 1)">11</text>
<text transform="translate(662.2 118.7) scale(.93 1)">3</text>
<text transform="translate(801 29.6) scale(.93 1)">18</text>
<text transform="translate(850 53.6) scale(.93 1)">20</text>
<text transform="translate(895 40.8) scale(.93 1)">19</text>
<text transform="translate(931.5 145.8) scale(.93 1)">18</text>
<text transform="translate(980 131.8) scale(.93 1)">1</text>
<text transform="translate(805.6 205.6) scale(.93 1)">2</text>
<text transform="translate(718.2 244.8) scale(.93 1)">14</text>
<text transform="translate(619.2 269.8) scale(.93 1)">19</text>
<text transform="translate(478.2 304.5) scale(.93 1)">6</text>
<text transform="translate(614.7 322.1) scale(.93 1)">8</text>
<text transform="translate(176.5 351.8) scale(.93 1)">9</text>
<text transform="translate(278.2 355.5) scale(.93 1)">5</text>
<text transform="translate(136.5 405.8) scale(.93 1)">7</text>
<text transform="translate(181.5 433.8) scale(.93 1)">5</text>
<text transform="translate(625 443.8) scale(.93 1)">4</text>
<text transform="translate(606 495) scale(.93 1)">10</text>
<text transform="translate(713 406.8) scale(.93 1)">15</text>
<text transform="translate(790 317.8) scale(.93 1)">16</text>
<text transform="translate(851.5 309.8) scale(.93 1)">17</text>
<text transform="translate(963.7 361.5) scale(.93 1)">21</text>
<text transform="translate(971.5 440) scale(.93 1)">21</text>
<text transform="translate(998 540)" style="font-size:12.8px">TX94B3930</text>
</g>

<!-- FR arrow -->
<g id="fr">
<path class="k" d="M18 535 L24 519 L27 524 L50 514.700 L55 527.500 L32.500 537.500 L34 542.500 Z"/>
<g transform="translate(55.500 526.800) rotate(-19)">
<text style="font-size:18px;font-weight:bold;stroke-width:0.7">FR</text>
</g>
<circle class="k" cx="82.500" cy="513.500" r="2.700"/>
</g>
</svg>
</body>
</html>
